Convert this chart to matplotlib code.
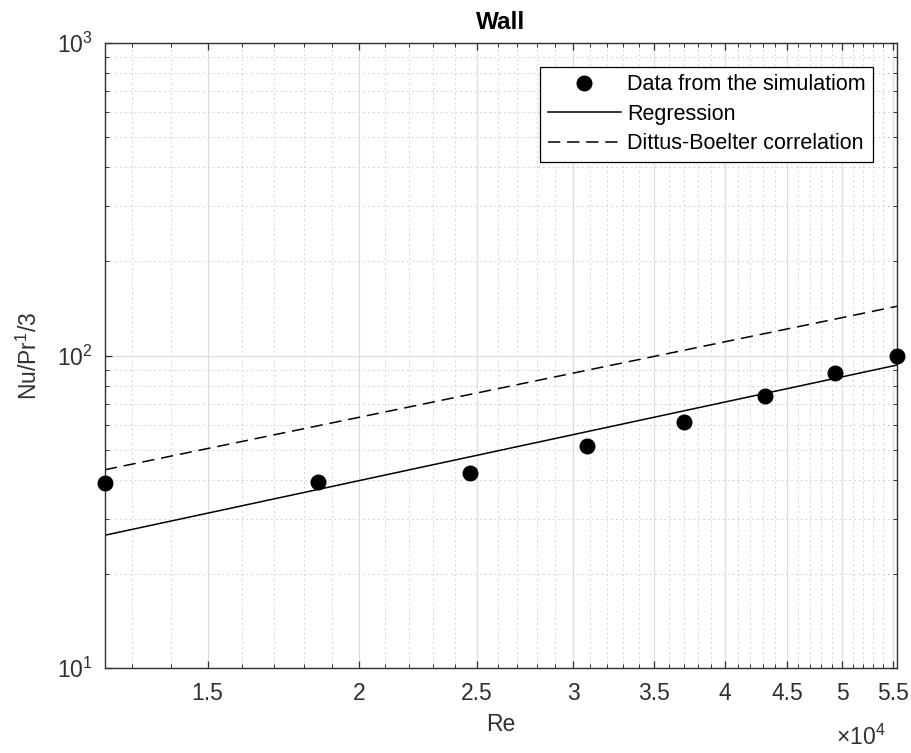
import numpy as np
import matplotlib
matplotlib.use('Agg')
from matplotlib import pyplot as plt
from matplotlib.ticker import FixedLocator, FixedFormatter, NullFormatter

# Simulation results (Re, Nu/Pr^1/3)
re_sim = [12350, 18480, 24660, 30830, 36990, 43140, 49340, 55450]
nu_sim = [39.2, 39.5, 42.0, 51.4, 61.3, 74.2, 87.7, 99.6]

# Straight lines in log-log space, given at the ends of the Re range
re_ends = [12350, 55450]
nu_regression = [26.6, 93.2]
nu_dittus = [43.1, 143.7]

x_ticks = [1.5e4, 2e4, 2.5e4, 3e4, 3.5e4, 4e4, 4.5e4, 5e4, 5.5e4]
x_tick_labels = ['1.5', '2', '2.5', '3', '3.5', '4', '4.5', '5', '5.5']
x_minor = [v * 1e3 for v in range(13, 56) if v % 5 != 0]
y_ticks = [10, 100, 1000]
y_tick_labels = ['$10^{1}$', '$10^{2}$', '$10^{3}$']
y_minor = [v * d for d in (10, 100) for v in range(2, 10)]

text_color = '#303030'


def pre_config():
    plt.rcParams.update({
        'font.family': ['Liberation Sans', 'DejaVu Sans'],
        'mathtext.default': 'regular',
        'font.size': 16.5,
    })


def wall_plot():
    fig = plt.figure(figsize=(9.12, 7.53), dpi=100)
    ax = fig.add_axes([105 / 912, 1 - 668 / 753, 792 / 912, 625 / 753])
    ax.set_xscale('log')
    ax.set_yscale('log')

    ax.plot(re_sim, nu_sim, 'o', color='black', markersize=10.5,
            clip_on=False, zorder=5, label='Data from the simulatiom')
    ax.plot(re_ends, nu_regression, '-', color='black', linewidth=1.1,
            label='Regression')
    ax.plot(re_ends, nu_dittus, '--', color='black', linewidth=1.1,
            dashes=(8, 4.5), label='Dittus-Boelter correlation')

    ax.set_xlim(re_ends[0], re_ends[1])
    ax.set_ylim(10, 1000)

    ax.xaxis.set_major_locator(FixedLocator(x_ticks))
    ax.xaxis.set_major_formatter(FixedFormatter(x_tick_labels))
    ax.xaxis.set_minor_locator(FixedLocator(x_minor))
    ax.xaxis.set_minor_formatter(NullFormatter())
    ax.yaxis.set_major_locator(FixedLocator(y_ticks))
    ax.yaxis.set_major_formatter(FixedFormatter(y_tick_labels))
    ax.yaxis.set_minor_locator(FixedLocator(y_minor))
    ax.yaxis.set_minor_formatter(NullFormatter())

    ax.tick_params(which='both', direction='in', top=True, right=True,
                   color=text_color, labelcolor=text_color)
    ax.tick_params(which='major', length=5, width=0.9)
    ax.tick_params(which='minor', length=3, width=0.7)
    ax.tick_params(axis='x', which='major', pad=10)
    ax.tick_params(axis='y', which='major', pad=9)

    ax.grid(True, which='major', color='#dedede', linestyle='-', linewidth=0.9)
    ax.grid(True, which='minor', color='#d4d4d4', linestyle=(0, (2, 3)),
            linewidth=0.7)
    ax.set_axisbelow(True)
    for sp in ax.spines.values():
        sp.set_color(text_color)
        sp.set_linewidth(1.0)

    ax.set_title('Wall', fontweight='bold', color='black', pad=10, fontsize=17.5)
    ax.set_xlabel('Re', color=text_color, labelpad=6)
    ax.set_ylabel('Nu/Pr$^{1}$/3', color=text_color, labelpad=11)
    ax.text(0.986, -0.09, r'$\times10^{4}$', transform=ax.transAxes,
            ha='right', va='top', color=text_color)

    leg = ax.legend(loc='upper right', fontsize=15.5, handlelength=3.4,
                    handletextpad=0.3, borderaxespad=1.1, labelspacing=0.4,
                    fancybox=False, framealpha=1, edgecolor='black',
                    borderpad=0.35)
    leg.get_frame().set_linewidth(0.9)

    fig.savefig('out.png', dpi=100)


def main():
    pre_config()
    wall_plot()


if __name__ == '__main__':
    main()
